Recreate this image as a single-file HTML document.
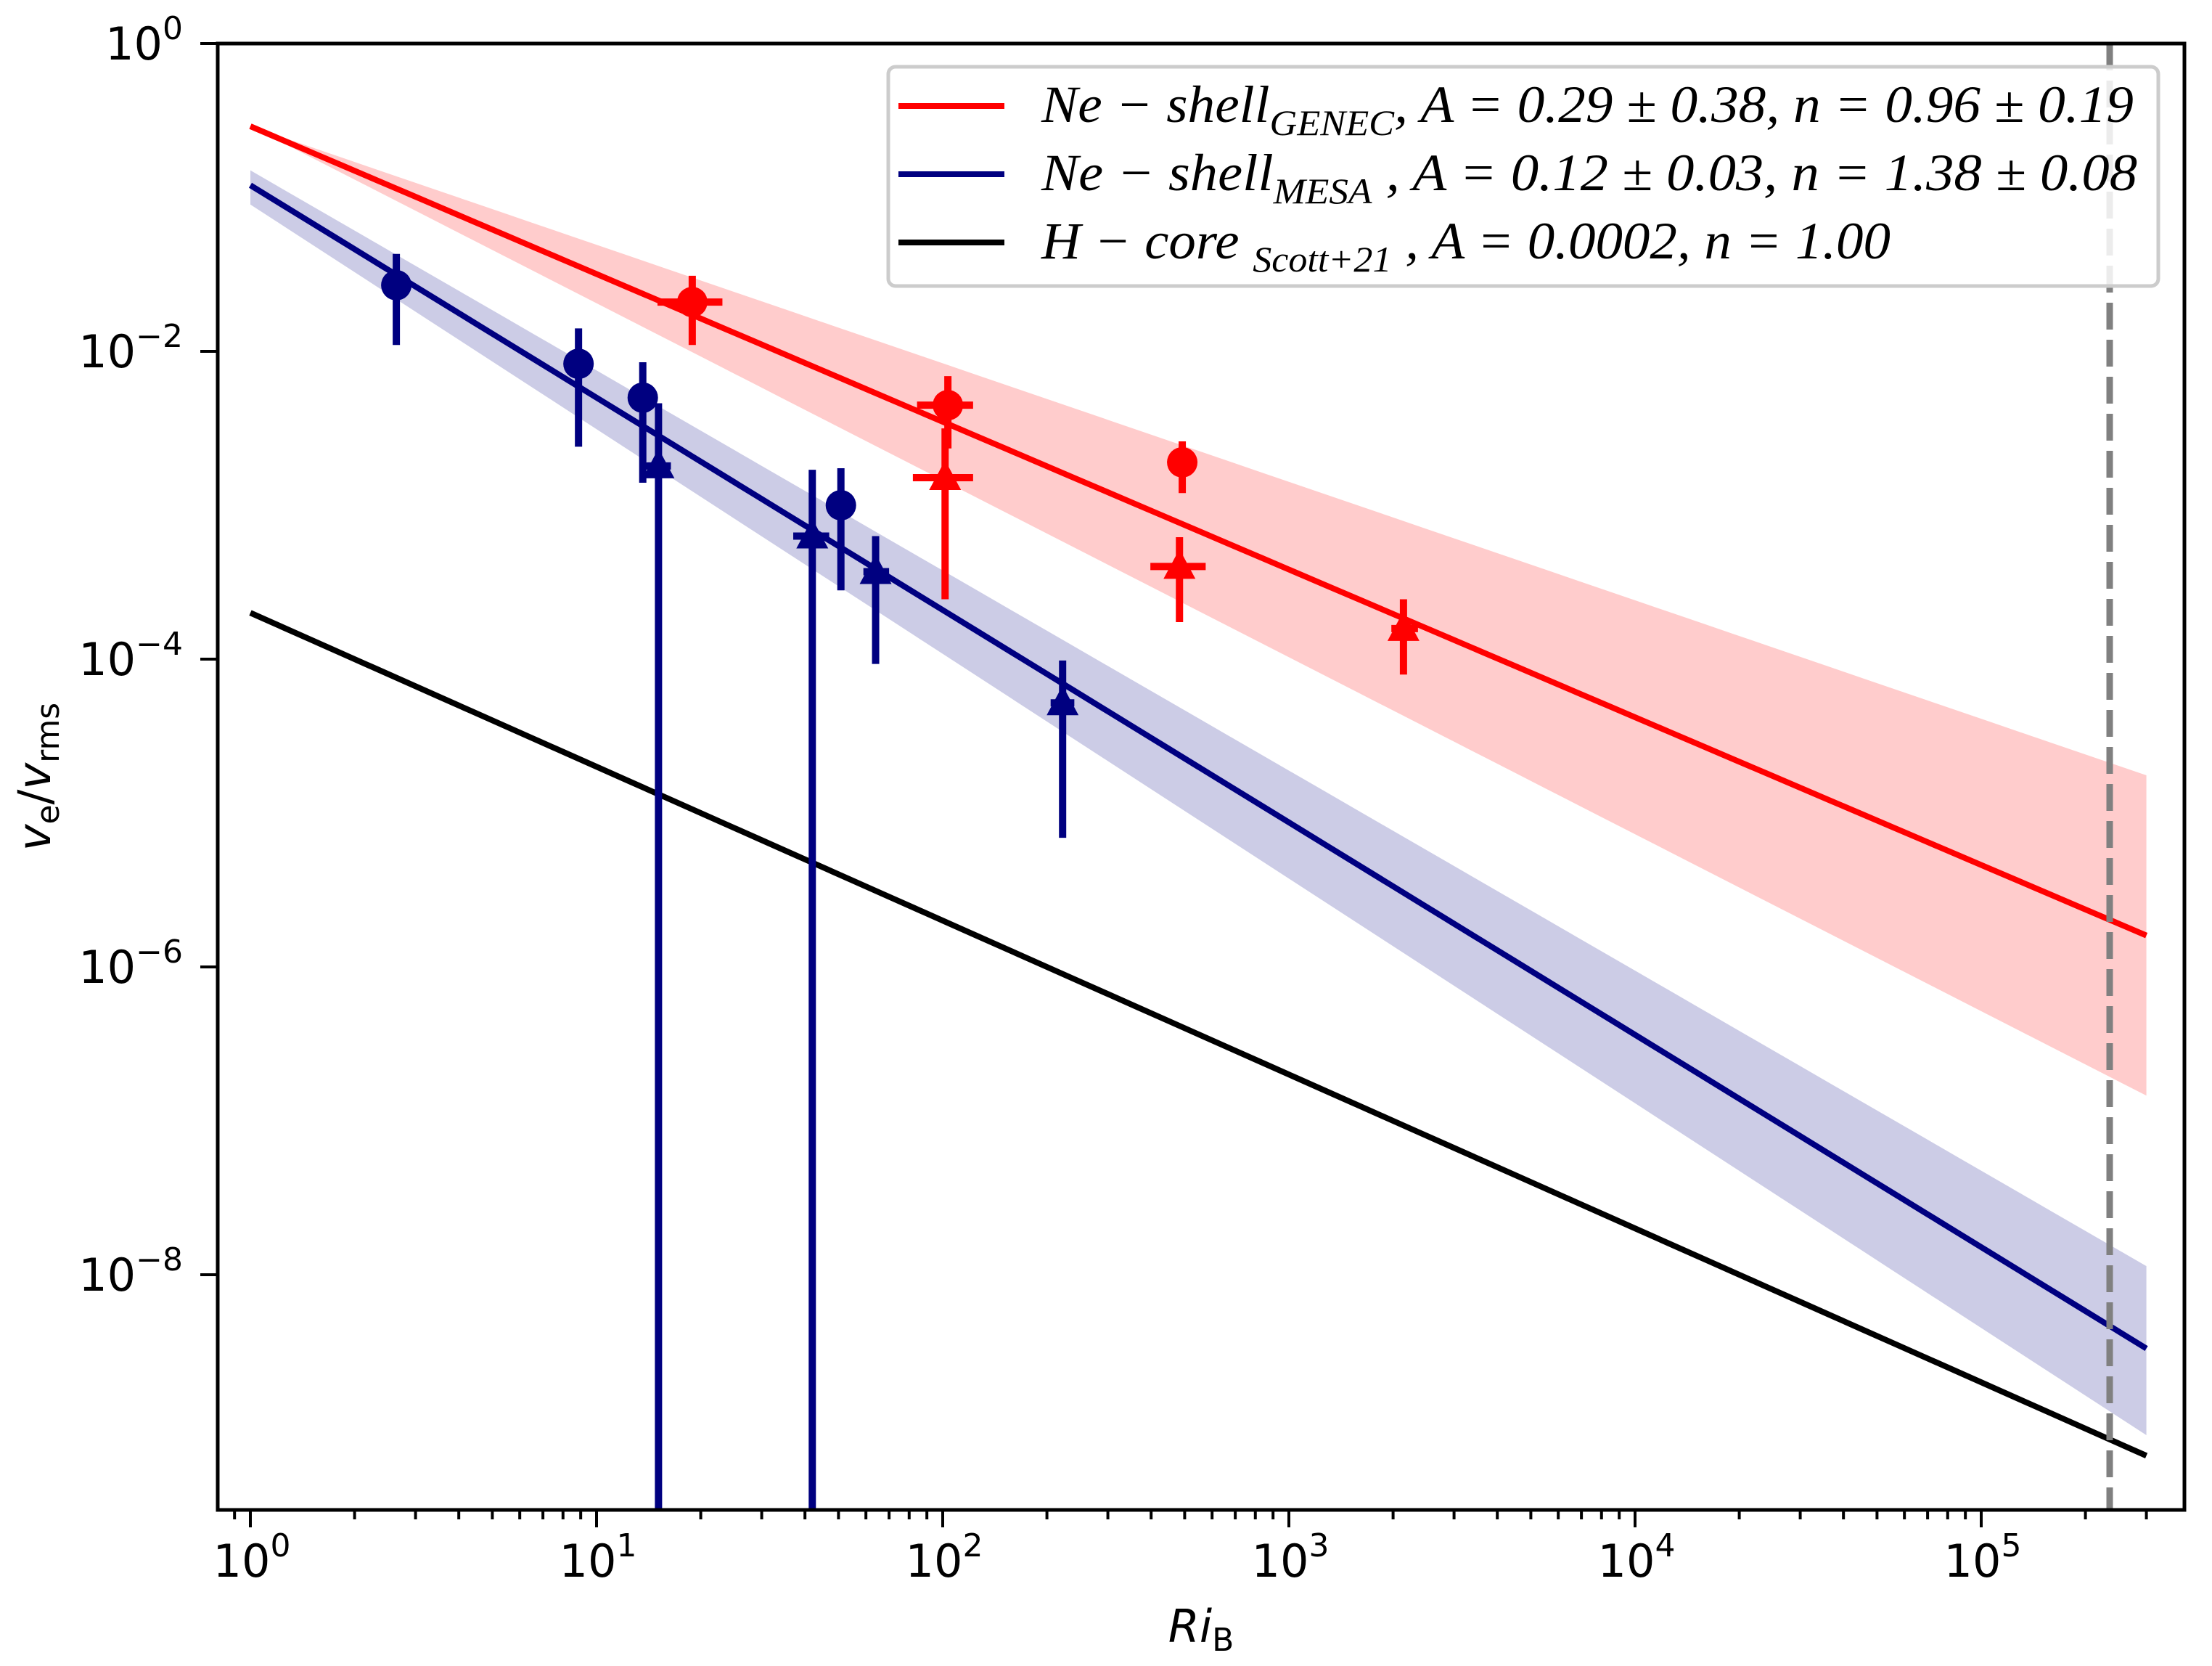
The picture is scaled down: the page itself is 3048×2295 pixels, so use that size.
<!DOCTYPE html>
<html><head><meta charset="utf-8"><style>
html,body{margin:0;padding:0;background:#fff;}
svg{display:block;}
text{font-family:"DejaVu Sans","Liberation Sans",sans-serif;}
.leg{font-family:"Liberation Serif","DejaVu Serif",serif;font-style:italic;}
</style></head><body>
<svg id="chart" width="3048" height="2295" viewBox="0 0 3048 2295" xmlns="http://www.w3.org/2000/svg">
<rect width="3048" height="2295" fill="#fff"/>
<g id="plot"></g>
</svg>
<script>
// ---- data ----
const fitNames = ["genec", "mesa", "hcore"];
const fitA = [0.29, 0.12, 0.0002];
const fitN = [0.96, 1.38, 1.00];
const fitColors = ["#ff0000", "#000080", "#000000"];
const redBandN = [0.77, 1.15];
const blueBandUpper = [0.15, 1.30];
const blueBandLower = [0.09, 1.46];
const xRange = [1, 3e5];
const dashedX = 2.35e5;

// blue circles
const bcX = [2.64, 8.87, 13.6, 50.8];
const bcY = [0.0269, 0.0083, 0.0050, 0.0010];
const bcYlo = [0.011, 0.0024, 0.0014, 0.00028];
const bcYhi = [0.043, 0.0141, 0.0085, 0.00174];
// blue triangles
const btX = [15.1, 42, 64, 222];
const btY = [0.0018, 0.00063, 0.00037, 0.000052];
const btYlo = [1e-12, 1e-12, 0.000093, 0.0000069];
const btYhi = [0.0046, 0.0017, 0.00063, 0.000098];
const btXlo = [13.9, 37, 59, 205];
const btXhi = [16.4, 47, 70, 240];
// red circles
const rcX = [18.9, 103.5, 492];
const rcY = [0.0209, 0.00447, 0.0019];
const rcYlo = [0.011, 0.00234, 0.0012];
const rcYhi = [0.031, 0.0069, 0.0026];
const rcXlo = [15.0, 84.3, 490];
const rcXhi = [23.1, 122.4, 494];
// red triangles
const rtX = [101.6, 483, 2143];
const rtY = [0.00151, 0.00040, 0.000158];
const rtYlo = [0.000245, 0.000174, 0.0000794];
const rtYhi = [0.00316, 0.00062, 0.000245];
const rtXlo = [82, 398, 1977];
const rtXhi = [122.4, 575, 2360];

const xTickExp = [0, 1, 2, 3, 4, 5];
const yTickExp = [0, -2, -4, -6, -8];

// ---- axes ----
const L = 300, R = 3010, T = 60, B = 2080;
const X0 = 345, DX = 477, Y0 = 60, DY = 212;
const xs = v => X0 + Math.log10(v) * DX;
const ys = v => Y0 - Math.log10(v) * DY;
const NS = "http://www.w3.org/2000/svg";
const g = document.getElementById('plot');
function mk(tag, attrs, parent) {
  const e = document.createElementNS(NS, tag);
  for (const k in attrs) e.setAttribute(k, attrs[k]);
  (parent || g).appendChild(e);
  return e;
}
const clip = mk('clipPath', {id: 'clipP'});
mk('rect', {x: L, y: T, width: R - L, height: B - T}, clip);
const inner = mk('g', {'clip-path': 'url(#clipP)'});



function curve(A, n) {
  const pts = [];
  for (let i = 0; i <= 60; i++) {
    const lx = Math.log10(xRange[0]) + (Math.log10(xRange[1]) - Math.log10(xRange[0])) * i / 60;
    const x = Math.pow(10, lx);
    pts.push([xs(x), ys(A * Math.pow(x, -n))]);
  }
  return pts;
}
function band(up, lo) {
  const a = up.map(p => p.join(',')), b = lo.slice().reverse().map(p => p.join(','));
  return 'M' + a.join('L') + 'L' + b.join('L') + 'Z';
}
// bands
let e = mk('path', {d: band(curve(fitA[0], redBandN[0]), curve(fitA[0], redBandN[1])), fill: '#ff0000', 'fill-opacity': 0.2}, inner);


e = mk('path', {d: band(curve(blueBandUpper[0], blueBandUpper[1]), curve(blueBandLower[0], blueBandLower[1])), fill: '#000080', 'fill-opacity': 0.2}, inner);



// lines
for (let i = 0; i < 3; i++) {
  const p = curve(fitA[i], fitN[i]);
  const ln = mk('polyline', {points: p.map(q => q.join(',')).join(' '), fill: 'none', stroke: fitColors[i], 'stroke-width': 8}, inner);
  
  
}

function errPts(X, Y, Ylo, Yhi, Xlo, Xhi, color, shape, name) {
  for (let i = 0; i < X.length; i++) {
    const gg = mk('g', {}, inner);
    
    
    const cx = xs(X[i]), cy = ys(Y[i]);
    mk('line', {x1: cx, x2: cx, y1: Math.min(ys(Ylo[i]), B + 50), y2: ys(Yhi[i]), stroke: color, 'stroke-width': 10}, gg);
    if (Xlo) mk('line', {x1: xs(Xlo[i]), x2: xs(Xhi[i]), y1: cy, y2: cy, stroke: color, 'stroke-width': 10}, gg);
    if (shape === 'c') mk('circle', {cx: cx, cy: cy, r: 21, fill: color}, gg);
    else mk('polygon', {points: `${cx},${cy - 24} ${cx - 22},${cy + 17} ${cx + 22},${cy + 17}`, fill: color}, gg);
  }
}
errPts(bcX, bcY, bcYlo, bcYhi, null, null, '#000080', 'c', 'mesa-circle');
errPts(btX, btY, btYlo, btYhi, btXlo, btXhi, '#000080', 't', 'mesa-triangle');
errPts(rcX, rcY, rcYlo, rcYhi, rcXlo, rcXhi, '#ff0000', 'c', 'genec-circle');
errPts(rtX, rtY, rtYlo, rtYhi, rtXlo, rtXhi, '#ff0000', 't', 'genec-triangle');

// dashed line
e = mk('line', {x1: xs(dashedX), x2: xs(dashedX), y1: T, y2: B, stroke: '#808080', 'stroke-width': 9, 'stroke-dasharray': '37,14'}, inner);



// spines
e = mk('rect', {x: L, y: T, width: R - L, height: B - T, fill: 'none', stroke: '#000', 'stroke-width': 5});



// x ticks
for (let d = -1; d <= 5; d++) {
  for (let m = 1; m <= 9; m++) {
    const v = m * Math.pow(10, d);
    const x = xs(v);
    if (x < L - 1 || x > R + 1) continue;
    const major = m === 1;
    const t = mk('line', {x1: x, x2: x, y1: B, y2: B + (major ? 24 : 13), stroke: '#000', 'stroke-width': 4});
    
    
  }
}
xTickExp.forEach(k => {
  const x = xs(Math.pow(10, k));
  const t = mk('text', {x: x + 2, y: 2172, 'font-size': 62, 'text-anchor': 'middle'});
  
  
  t.innerHTML = '10<tspan dy="-28" font-size="44">' + k + '</tspan>';
});
yTickExp.forEach(k => {
  const y = ys(Math.pow(10, k));
  const t = mk('line', {x1: L, x2: L - 24, y1: y, y2: y, stroke: '#000', 'stroke-width': 4});
  
  
  const s = k === 0 ? '0' : '\u2212' + (-k);
  const tx = mk('text', {x: 252, y: y + 22, 'font-size': 62, 'text-anchor': 'end'});
  
  
  tx.innerHTML = '10<tspan dy="-28" font-size="44">' + s + '</tspan>';
});

// axis titles
e = mk('text', {x: 1655, y: 2262, 'font-size': 62, 'text-anchor': 'middle'});


e.innerHTML = '<tspan font-style="italic">Ri</tspan><tspan font-size="44" dy="12">B</tspan>';
e = mk('text', {x: 0, y: 0, 'font-size': 62, 'text-anchor': 'middle', transform: 'translate(69,1070) rotate(-90)'});


e.innerHTML = '<tspan font-style="italic">v</tspan><tspan font-size="44" dy="12">e</tspan><tspan dy="-12">/</tspan><tspan font-style="italic">v</tspan><tspan font-size="44" dy="12">rms</tspan>';

// legend
const lg = mk('g', {});


mk('rect', {x: 1224, y: 92, width: 1750, height: 302, rx: 10, fill: '#fff', 'fill-opacity': 0.85, stroke: '#cccccc', 'stroke-width': 5}, lg);
const legY = [146, 240, 334];
const legHtml = [
  'Ne \u2212 shell<tspan font-size="50" dy="18">GENEC</tspan><tspan dy="-18">, A = 0.29 \u00b1 0.38, n = 0.96 \u00b1 0.19</tspan>',
  'Ne \u2212 shell<tspan font-size="50" dy="18">MESA</tspan><tspan dy="-18">  , A = 0.12 \u00b1 0.03, n = 1.38 \u00b1 0.08</tspan>',
  'H \u2212 core <tspan font-size="50" dy="18">Scott+21</tspan><tspan dy="-18"> , A = 0.0002, n = 1.00</tspan>'
];
const legLen = [1505, 1510, 1170];
for (let i = 0; i < 3; i++) {
  const en = mk('g', {}, lg);
  
  
  mk('line', {x1: 1238, x2: 1384, y1: legY[i], y2: legY[i], stroke: fitColors[i], 'stroke-width': 8}, en);
  const t = mk('text', {x: 1435, y: legY[i] + 22, 'font-size': 72, class: 'leg', textLength: legLen[i], lengthAdjust: 'spacingAndGlyphs'}, en);
  t.innerHTML = legHtml[i];
}
</script>
</body></html>
